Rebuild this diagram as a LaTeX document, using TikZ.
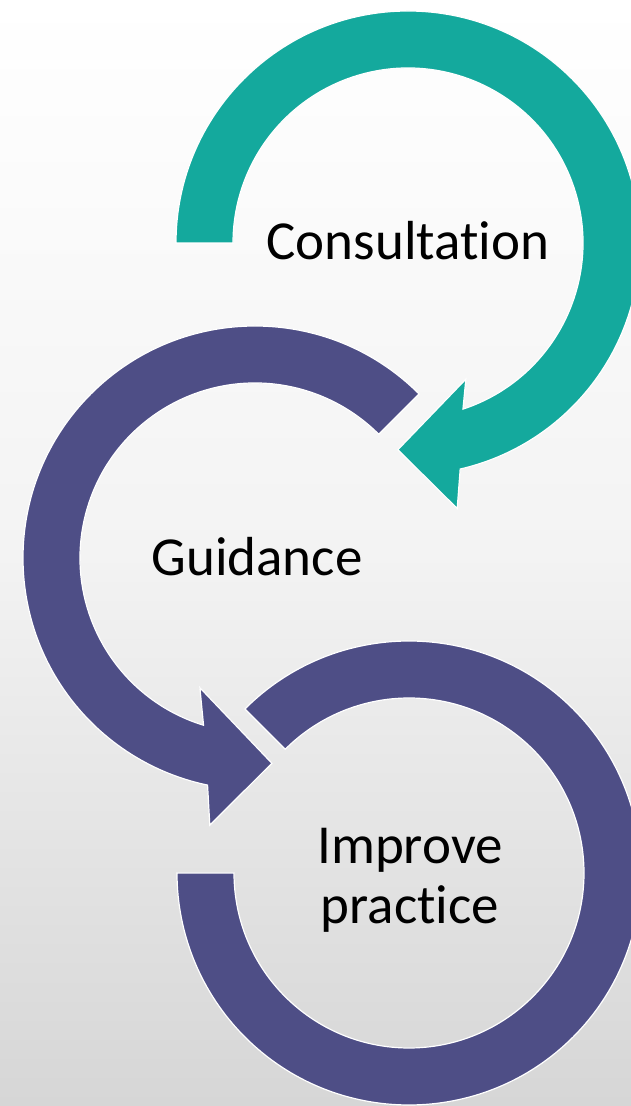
\documentclass[tikz,border=0pt]{standalone}
\usepackage{fontspec}
\setmainfont{Carlito}[Ligatures=NoCommon]
\usetikzlibrary{positioning}

\definecolor{consult}{RGB}{20,169,157}
\definecolor{guide}{RGB}{78,78,134}
\definecolor{bgmid}{RGB}{243,243,243}
\definecolor{bglow}{RGB}{214,214,214}

\begin{document}
\begin{tikzpicture}[x=1pt,y=1pt,
   ring/.style={draw=white,line width=1.2pt,line join=miter},
   ringtext/.style={font=\fontsize{55}{60}\selectfont,inner sep=0pt,align=center}]

   \useasboundingbox (0,0) rectangle (631,1106);
   \shade[top color=white,bottom color=bglow,middle color=bgmid] (0,0) rectangle (631,1106);

   \coordinate (c_con) at (408,863);
   \coordinate (c_gui) at (255,548);
   \coordinate (c_imp) at (409,233);

   % improve practice ring
   \path[ring,fill=guide,shift={(c_imp)}]
      (135:232) arc[start angle=135,end angle=-180,radius=232]
      -- (180:175) arc[start angle=-180,end angle=135,radius=175] -- cycle;

   % guidance arrow
   \path[ring,fill=guide,shift={(c_gui)}]
      (45:232) arc[start angle=45,end angle=258.2,radius=232]
      -- (260.4:271) -- (274.7:206) -- (247:141)
      -- (252.9:175) arc[start angle=252.9,end angle=45,radius=175] -- cycle;

   % consultation arrow
   \path[ring,fill=consult,shift={(c_con)}]
      (180:232) arc[start angle=180,end angle=-77,radius=232]
      -- (-79.5:270) -- (-92.8:207) -- (-67:148)
      -- (-71.7:175) arc[start angle=-71.7,end angle=180,radius=175] -- cycle;

   \node[ringtext] (consultation) at (408,865) {Consultation};
   \node[ringtext] (guidance) at (257,549) {Guidance};
   \node[ringtext] (improve) at (410,226) {Improve\\practice};

\end{tikzpicture}
\end{document}
